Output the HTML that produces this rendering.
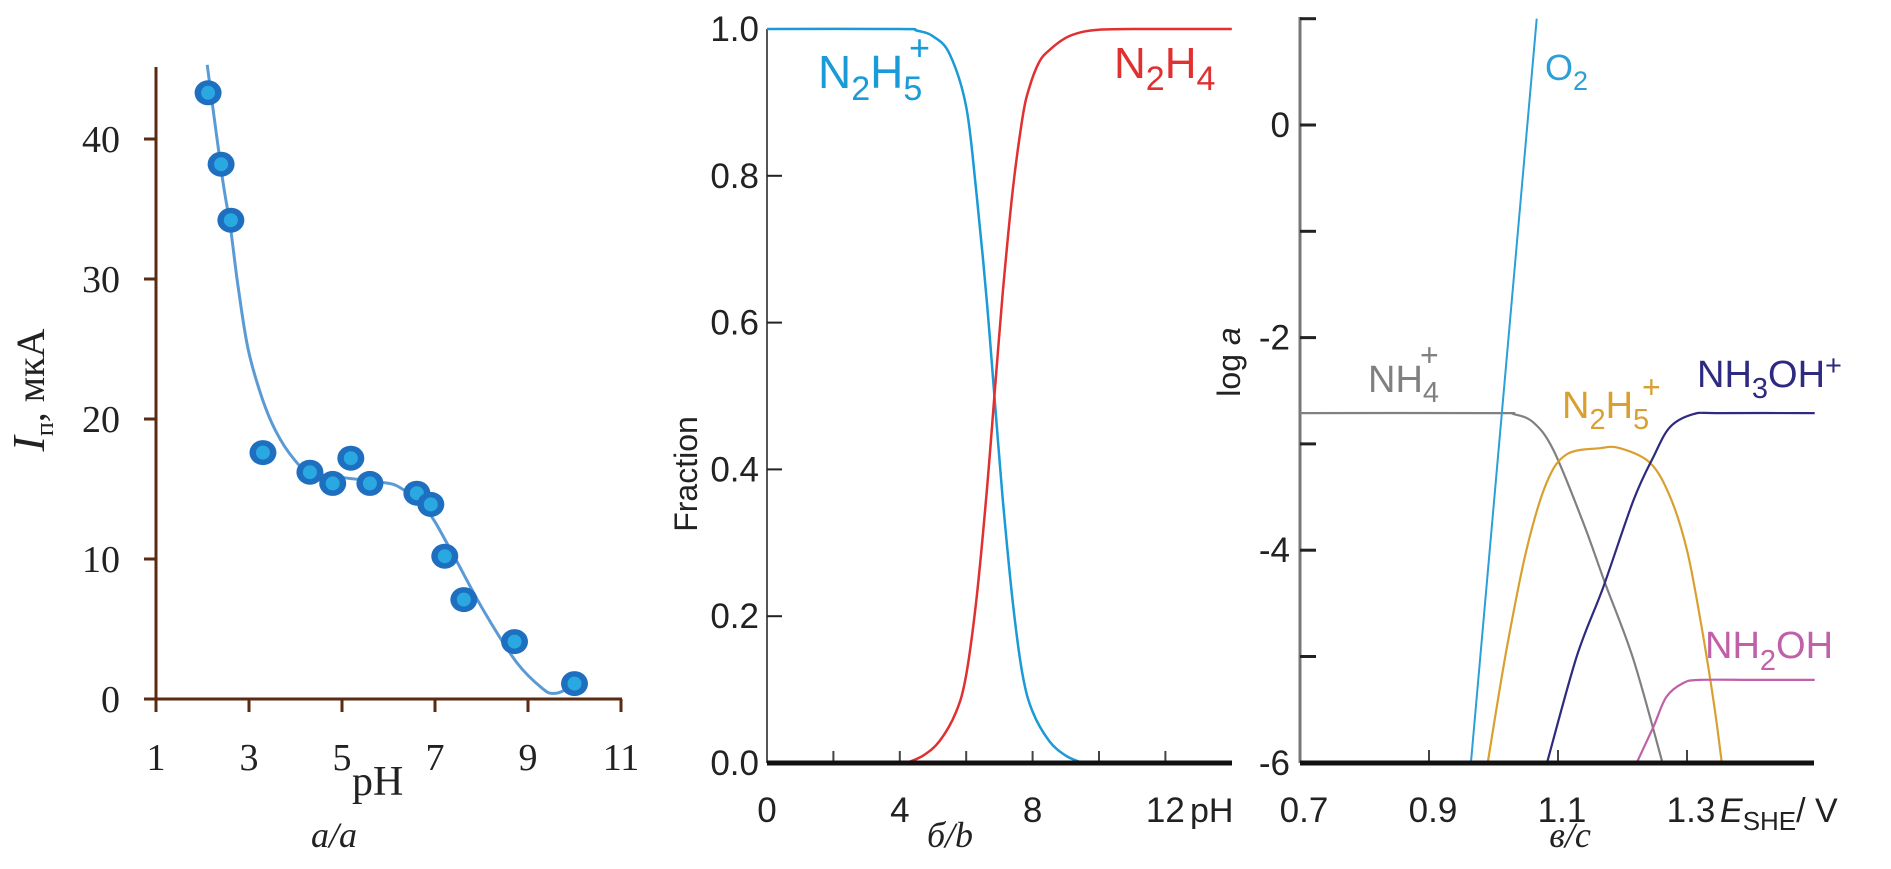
<!DOCTYPE html>
<html><head><meta charset="utf-8"><style>
html,body{margin:0;padding:0;background:#fff;}
svg{display:block;}
.ser{font-family:"Liberation Serif",serif;}
.san{font-family:"Liberation Sans Narrow","Liberation Sans",sans-serif;}
</style></head><body>
<svg id="fig" width="1891" height="869" viewBox="0 0 1891 869" xmlns="http://www.w3.org/2000/svg">
  <text class="ser" x="44" y="390" font-size="40" fill="#222" text-anchor="middle" transform="rotate(-90 44 390)"><tspan font-style="italic" font-size="46">I</tspan><tspan font-size="26" dy="9">п</tspan><tspan dy="-9">, мкА</tspan></text>
  <text class="ser" x="352" y="795" font-size="42" fill="#222">pH</text>
  <text class="ser" x="334" y="847" font-size="36" font-style="italic" fill="#222" text-anchor="middle">а/а</text>
  <text class="san" x="697" y="474" font-size="32" fill="#222" text-anchor="middle" transform="rotate(-90 697 474)">Fraction</text>
  <text class="san" x="1190" y="822" font-size="34" fill="#222">pH</text>
  <text class="ser" x="950" y="847" font-size="36" font-style="italic" fill="#222" text-anchor="middle">б/b</text>
  <text class="san" x="818" y="88" font-size="46" fill="#1a9ad6">N<tspan font-size="34" dy="12">2</tspan><tspan dy="-12">H</tspan><tspan font-size="34" dy="12">5</tspan></text>
  <text class="san" x="909" y="60" font-size="36" fill="#1a9ad6">+</text>
  <text class="san" x="1114" y="78" font-size="44" fill="#e03030">N<tspan font-size="34" dy="12">2</tspan><tspan dy="-12">H</tspan><tspan font-size="34" dy="12">4</tspan></text>
  <text class="san" x="1240" y="362" font-size="32" fill="#222" text-anchor="middle" transform="rotate(-90 1240 362)">log <tspan font-style="italic">a</tspan></text>
  <text class="san" x="1720" y="822" font-size="34" fill="#222"><tspan font-style="italic">E</tspan><tspan font-size="26" dy="8">SHE</tspan><tspan dy="-8">/ V</tspan></text>
  <text class="ser" x="1570" y="847" font-size="36" font-style="italic" fill="#222" text-anchor="middle">в/c</text>
  <text class="san" x="1545" y="80" font-size="36" fill="#2a9fd8">O<tspan font-size="27" dy="10">2</tspan></text>
  <text class="san" x="1368" y="392" font-size="38" fill="#808080">NH<tspan font-size="29" dy="10">4</tspan></text>
  <text class="san" x="1420" y="366" font-size="32" fill="#808080">+</text>
  <text class="san" x="1562" y="418" font-size="38" fill="#d9a030">N<tspan font-size="29" dy="11">2</tspan><tspan dy="-11">H</tspan><tspan font-size="29" dy="11">5</tspan></text>
  <text class="san" x="1642" y="398" font-size="32" fill="#d9a030">+</text>
  <text class="san" x="1697" y="387" font-size="38" fill="#2e2a80">NH<tspan font-size="29" dy="11">3</tspan><tspan dy="-11">OH</tspan><tspan font-size="29" dy="-12">+</tspan></text>
  <text class="san" x="1705" y="658" font-size="38" fill="#c060a8">NH<tspan font-size="29" dy="12">2</tspan><tspan dy="-12">OH</tspan></text>
</svg>
<script>
// ---------- Panel a data ----------
const aPH = [2.12, 2.40, 2.61, 3.30, 4.31, 4.80, 5.19, 5.60, 6.61, 6.91, 7.21, 7.62, 8.71, 10.0];
const aI  = [43.3, 38.2, 34.2, 17.6, 16.2, 15.4, 17.2, 15.4, 14.7, 13.9, 10.2, 7.1, 4.1, 1.1];
const aFitPH = [2.10, 2.42, 2.60, 2.76, 2.98, 3.28, 3.58, 3.95, 4.31, 5.06, 5.80, 6.25, 6.84, 7.28, 8.03, 8.76, 9.33, 9.56, 9.77, 10.0];
const aFitI  = [45.3, 37.4, 33.7, 29.6, 25.0, 21.5, 19.1, 17.2, 16.2, 15.8, 15.5, 15.1, 13.4, 11.0, 6.4, 2.6, 0.7, 0.4, 0.6, 1.1];
const aXTicks = [1, 3, 5, 7, 9, 11];
const aYTicks = [0, 10, 20, 30, 40];
// ---------- Panel b data ----------
const bBluePH = [0, 4, 4.5, 5, 5.5, 6, 6.3, 6.6, 6.85, 7.1, 7.4, 7.7, 8, 8.5, 9, 9.5];
const bBlue   = [1, 1, 0.998, 0.99, 0.966, 0.894, 0.78, 0.64, 0.5, 0.36, 0.22, 0.12, 0.07, 0.03, 0.01, 0];
const bRedPH  = [4.2, 4.7, 5.2, 5.7, 6.0, 6.3, 6.6, 6.85, 7.1, 7.4, 7.7, 7.9, 8.2, 8.5, 9, 9.5, 10, 11, 14];
const bRed    = [0, 0.01, 0.03, 0.07, 0.12, 0.22, 0.36, 0.5, 0.64, 0.78, 0.88, 0.92, 0.955, 0.971, 0.988, 0.996, 0.999, 1, 1];
const bXTicks = [2, 4, 6, 8, 10, 12];
const bXLabels = [0, 4, 8, 12];
const bYTicks = [0, 0.2, 0.4, 0.6, 0.8, 1.0];
// ---------- Panel c data ----------
const cO2E = [0.965, 1.067];
const cO2V = [-6, 1];
const cNH4E = [0.70, 1.00, 1.031, 1.062, 1.093, 1.139, 1.173, 1.217, 1.262];
const cNH4V = [-2.71, -2.71, -2.72, -2.80, -3.06, -3.74, -4.31, -5.03, -6];
const cN2H5E = [0.991, 1.020, 1.051, 1.082, 1.113, 1.165, 1.196, 1.243, 1.274, 1.300, 1.320, 1.341, 1.354];
const cN2H5V = [-6, -4.94, -4.0, -3.37, -3.10, -3.04, -3.04, -3.18, -3.50, -4.0, -4.63, -5.41, -6];
const cNH3OHE = [1.083, 1.129, 1.170, 1.217, 1.248, 1.274, 1.310, 1.35, 1.498];
const cNH3OHV = [-6, -5.0, -4.35, -3.53, -3.12, -2.84, -2.72, -2.71, -2.71];
const cNH2OHE = [1.222, 1.248, 1.268, 1.294, 1.320, 1.40, 1.498];
const cNH2OHV = [-6, -5.66, -5.38, -5.25, -5.22, -5.22, -5.22];
const cYTicks = [1, 0, -1, -2, -3, -4, -5, -6];
const cYLabels = [0, -2, -4, -6];
const cXTicks = [0.9, 1.1, 1.3];
const cXLabels = [0.7, 0.9, 1.1, 1.3];

const svg = document.getElementById('fig');
const NS = 'http://www.w3.org/2000/svg';
function mk(tag, attrs){ const e = document.createElementNS(NS, tag); for (const k in attrs) e.setAttribute(k, attrs[k]); svg.appendChild(e); return e; }
function smooth(xs, ys){
  let d = 'M' + xs[0].toFixed(1) + ' ' + ys[0].toFixed(1);
  for (let i = 0; i < xs.length - 1; i++){
    const x0 = xs[Math.max(i-1,0)], y0 = ys[Math.max(i-1,0)];
    const x1 = xs[i], y1 = ys[i], x2 = xs[i+1], y2 = ys[i+1];
    const x3 = xs[Math.min(i+2,xs.length-1)], y3 = ys[Math.min(i+2,xs.length-1)];
    const c1x = x1 + (x2-x0)/6, c1y = y1 + (y2-y0)/6, c2x = x2 - (x3-x1)/6, c2y = y2 - (y3-y1)/6;
    d += ' C' + c1x.toFixed(1)+' '+c1y.toFixed(1)+' '+c2x.toFixed(1)+' '+c2y.toFixed(1)+' '+x2.toFixed(1)+' '+y2.toFixed(1);
  }
  return d;
}

// ===== Panel a =====
const ax = v => 156 + (v - 1) * 46.5;
const ay = v => 699 - v * 14.0;
const brown = '#5a2a12';
let e;
e = mk('line', {x1:156, y1:67, x2:156, y2:701, stroke:brown, 'stroke-width':3});


e = mk('line', {x1:144, y1:699, x2:622, y2:699, stroke:brown, 'stroke-width':3});


aXTicks.forEach(v => {
  e = mk('line', {x1:ax(v), y1:699, x2:ax(v), y2:712, stroke:brown, 'stroke-width':3});
  
  
  e = mk('text', {x:ax(v), y:770, 'font-size':38, fill:'#222', 'text-anchor':'middle', class:'ser'});
  e.textContent = v;
  
  
});
aYTicks.forEach(v => {
  e = mk('line', {x1:144, y1:ay(v), x2:156, y2:ay(v), stroke:brown, 'stroke-width':3});
  
  
  e = mk('text', {x:120, y:ay(v)+13, 'font-size':38, fill:'#222', 'text-anchor':'end', class:'ser'});
  e.textContent = v;
  
  
});
e = mk('path', {d:smooth(aFitPH.map(ax), aFitI.map(ay)), fill:'none', stroke:'#5b9bd5', 'stroke-width':3});


aPH.forEach((p, i) => {
  e = mk('ellipse', {cx:ax(p), cy:ay(aI[i]), rx:13.5, ry:12.5, fill:'#1f6fc0'});
  
  
  e = mk('circle', {cx:ax(p), cy:ay(aI[i]), r:7, fill:'#2aa8e2'});
  
  
});

// ===== Panel b =====
const bx = v => 767 + v * 33.2;
const by = v => 763 - v * 734;
e = mk('line', {x1:767, y1:29, x2:767, y2:763, stroke:'#555', 'stroke-width':2});


bYTicks.forEach(v => {
  e = mk('line', {x1:767, y1:by(v), x2:782, y2:by(v), stroke:'#222', 'stroke-width':2});
  
  
  e = mk('text', {x:759, y:by(v)+12, 'font-size':35, fill:'#222', 'text-anchor':'end', class:'san'});
  e.textContent = v.toFixed(1);
  
  
});
bXTicks.forEach(v => {
  e = mk('line', {x1:bx(v), y1:763, x2:bx(v), y2:751, stroke:'#444', 'stroke-width':2});
  
  
});
bXLabels.forEach(v => {
  e = mk('text', {x:bx(v), y:822, 'font-size':35, fill:'#222', 'text-anchor':'middle', class:'san'});
  e.textContent = v;
  
  
});
e = mk('path', {d:smooth(bBluePH.map(bx), bBlue.map(by)), fill:'none', stroke:'#1a9ad6', 'stroke-width':2.5});


e = mk('path', {d:smooth(bRedPH.map(bx), bRed.map(by)), fill:'none', stroke:'#e03030', 'stroke-width':2.5});


e = mk('line', {x1:767, y1:763, x2:1232, y2:763, stroke:'#111', 'stroke-width':5});



// ===== Panel c =====
const cx = v => 1300 + (v - 0.7) * 645;
const cy = v => 125 - v * 106.3;
e = mk('line', {x1:1300, y1:17, x2:1300, y2:763, stroke:'#777', 'stroke-width':3});


cYTicks.forEach(v => {
  e = mk('line', {x1:1300, y1:cy(v), x2:1316, y2:cy(v), stroke:'#222', 'stroke-width':3});
  
  
});
cYLabels.forEach(v => {
  e = mk('text', {x:1290, y:cy(v)+12, 'font-size':35, fill:'#222', 'text-anchor':'end', class:'san'});
  e.textContent = v;
  
  
});
cXTicks.forEach(v => {
  e = mk('line', {x1:cx(v), y1:763, x2:cx(v), y2:750, stroke:'#444', 'stroke-width':2});
  
  
});
cXLabels.forEach(v => {
  e = mk('text', {x:cx(v)+4, y:822, 'font-size':35, fill:'#222', 'text-anchor':'middle', class:'san'});
  e.textContent = v.toFixed(1);
  
  
});
e = mk('path', {d:smooth(cNH4E.map(cx), cNH4V.map(cy)), fill:'none', stroke:'#808080', 'stroke-width':2.2});


e = mk('path', {d:smooth(cN2H5E.map(cx), cN2H5V.map(cy)), fill:'none', stroke:'#d9a030', 'stroke-width':2.2});


e = mk('path', {d:smooth(cNH3OHE.map(cx), cNH3OHV.map(cy)), fill:'none', stroke:'#2e2a80', 'stroke-width':2.2});


e = mk('path', {d:smooth(cNH2OHE.map(cx), cNH2OHV.map(cy)), fill:'none', stroke:'#c060a8', 'stroke-width':2.2});


e = mk('line', {x1:cx(cO2E[0]), y1:cy(cO2V[0]), x2:cx(cO2E[1]), y2:cy(cO2V[1]), stroke:'#2a9fd8', 'stroke-width':2});


e = mk('line', {x1:1300, y1:763, x2:1814, y2:763, stroke:'#111', 'stroke-width':5});


</script>
</body></html>
